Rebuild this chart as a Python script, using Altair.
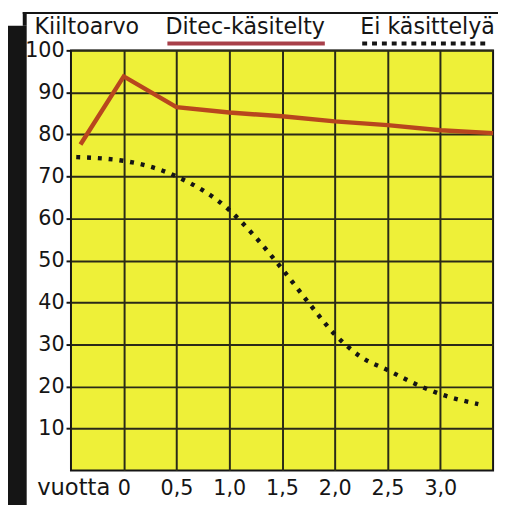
import altair as alt
import pandas as pd

# ---- data ----
ditec_x = [-0.41, 0.0, 0.5, 1.0, 1.5, 2.0, 2.5, 3.0, 3.5]
ditec_y = [77.6, 93.8, 86.5, 85.2, 84.3, 83.1, 82.2, 81.0, 80.3]
ei_x = [-0.45, 0.0, 0.5, 1.0, 1.25, 1.5, 1.75, 2.0, 2.25, 2.5, 2.8, 3.0, 3.36]
ei_y = [74.6, 73.7, 70.0, 62.0, 55.5, 48.0, 40.0, 32.4, 27.0, 23.9, 20.2, 18.2, 15.8]
x_ticks = [0, 0.5, 1.0, 1.5, 2.0, 2.5, 3.0]
x_labels = ["0", "0,5", "1,0", "1,5", "2,0", "2,5", "3,0"]
y_ticks = [10, 20, 30, 40, 50, 60, 70, 80, 90, 100]
y_title = "Kiiltoarvo"
series_names = ["Ditec-käsitelty", "Ei käsittelyä"]
x_prefix = "vuotta"

FONT = "DejaVu Sans"
FS = 21
FS_T = 22.5
YELLOW = "#eef038"
RED = "#b8461e"
INK = "#151515"
GRID = "#2a2a18"

df_d = pd.DataFrame({"x": ditec_x, "y": ditec_y})
df_e = pd.DataFrame({"x": ei_x, "y": ei_y})
one = pd.DataFrame({"a": [0]})

label_expr = " : ".join(f"datum.value == {v} ? '{l}'" for v, l in zip(x_ticks, x_labels)) + " : ''"

xs = alt.Scale(domain=[-0.5, 3.5], nice=False, zero=False)
ys = alt.Scale(domain=[0, 100], nice=False)

x_axis = alt.Axis(values=x_ticks, labelExpr=label_expr, grid=True, gridColor=GRID, gridWidth=2,
                  gridOpacity=1, ticks=False, domain=False, labelFont=FONT, labelFontSize=FS,
                  labelColor=INK, labelPadding=7, title=None, labelFlush=False, labelOverlap=False)
y_axis = alt.Axis(values=y_ticks, grid=True, gridColor=GRID, gridWidth=2, gridOpacity=1,
                  ticks=True, tickSize=5, tickColor=INK, tickWidth=2, domain=False,
                  labelFont=FONT, labelFontSize=FS, labelColor=INK, labelPadding=2,
                  title=None, labelFlush=False, labelOverlap=False)

ditec = alt.Chart(df_d).mark_line(color=RED, strokeWidth=4.5).encode(
    x=alt.X("x:Q", scale=xs, axis=x_axis),
    y=alt.Y("y:Q", scale=ys, axis=y_axis),
)
ei = alt.Chart(df_e).mark_line(color=INK, strokeWidth=4.5, strokeDash=[4, 7],
                               interpolate="monotone").encode(
    x=alt.X("x:Q", scale=xs),
    y=alt.Y("y:Q", scale=ys),
)

def rect(x, x2, y, y2, color=INK):
    return alt.Chart(one).mark_rect(color=color).encode(
        x=alt.value(x), x2=alt.value(x2), y=alt.value(y), y2=alt.value(y2))

def text(s, x, y, align="left", size=FS_T, baseline="alphabetic"):
    return alt.Chart(pd.DataFrame({"t": [s]})).mark_text(
        align=align, baseline=baseline, font=FONT, fontSize=size, color=INK
    ).encode(x=alt.value(x), y=alt.value(y), text="t:N")

frame = rect(-64, -45, -25, 462) + rect(-49, -45, -39, -25) + rect(-49, 434, -39, -37)

title_y = -17
titles = (text(y_title, -37, title_y) + text(series_names[0], 96, title_y)
          + text(series_names[1], 294, title_y)
          + text(x_prefix, 40, 434, align="right", size=23, baseline="top"))

leg_d = alt.Chart(one).mark_rule(color="#a8404a", strokeWidth=4).encode(
    x=alt.value(98), x2=alt.value(258), y=alt.value(-7))
leg_e = alt.Chart(one).mark_rule(color=INK, strokeWidth=4, strokeDash=[5, 5]).encode(
    x=alt.value(296), x2=alt.value(421), y=alt.value(-7))

chart = alt.layer(ditec, ei, frame, titles, leg_d, leg_e).properties(
    width=429, height=427,
    autosize=alt.AutoSizeParams(type="none"),
    padding={"left": 64, "top": 39, "right": 5, "bottom": 31},
    background="white",
).configure_view(fill=YELLOW, stroke=INK, strokeWidth=2)

chart.save("out.html", embed_options={"renderer": "svg", "actions": False})
